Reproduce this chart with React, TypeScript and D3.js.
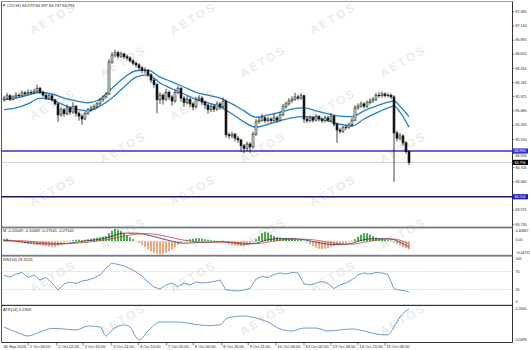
import React from 'react';
import * as d3 from 'd3';

// ---- chart texts ----
const symbolHeader = 'CDY,H1  84.979 84.997 84.747 84.794';
const macdHeader = 'M -0.20049 -0.10669 -0.27541 -0.27541';
const rsiHeader = 'RSI(14) 23.3123';
const atrHeader = 'ATR(14) 0.2309';

// ---- right price axis ----
const priceTicks = [87.385, 87.14, 86.895, 86.655, 86.41, 86.165, 85.925, 85.68, 85.435, 85.19, 84.95, 84.705, 84.46, 83.975, 83.73];
const levelLines = [84.99, 84.204];
const lastPrice = 84.794;

// ---- H1 candles ----
const firstOpen = 85.87;
const closes = [
  85.90, 85.94, 85.88, 85.92, 85.95, 85.94, 85.99, 85.97, 86.00, 85.99,
  86.02, 86.07, 86.00, 85.95, 85.90, 85.94, 85.87, 85.80, 85.61, 85.70,
  85.63, 85.73, 85.66, 85.76, 85.64, 85.59, 85.54, 85.64, 85.70, 85.73,
  85.76, 85.80, 85.87, 85.92, 85.97, 86.52, 86.64, 86.68, 86.62, 86.66,
  86.61, 86.59, 86.54, 86.50, 86.47, 86.42, 86.38, 86.37, 86.30, 86.21,
  86.13, 85.87, 85.95, 85.88, 86.00, 85.92, 85.85, 86.00, 86.07, 85.90,
  85.82, 85.88, 85.80, 85.75, 85.87, 85.90, 85.83, 85.78, 85.70, 85.76,
  85.71, 85.80, 85.75, 85.85, 85.27, 85.25, 85.28, 85.21, 85.18, 85.08,
  85.03, 85.11, 85.06, 85.28, 85.49, 85.52, 85.56, 85.51, 85.54, 85.51,
  85.56, 85.52, 85.61, 85.75, 85.80, 85.85, 85.88, 85.92, 85.90, 85.94,
  85.54, 85.51, 85.56, 85.52, 85.58, 85.54, 85.51, 85.56, 85.52, 85.59,
  85.45, 85.35, 85.33, 85.39, 85.40, 85.44, 85.52, 85.73, 85.76, 85.80,
  85.76, 85.82, 85.85, 85.88, 85.95, 85.94, 85.97, 85.94, 85.95, 85.92,
  85.30, 85.21, 85.25, 85.13, 84.979, 84.794,
];
const highs = [
  85.94, 85.99, 85.97, 85.95, 86.00, 85.98, 86.03, 86.02, 86.05, 86.04,
  86.06, 86.13, 86.09, 86.03, 85.98, 85.97, 85.96, 85.89, 85.82, 85.74,
  85.73, 85.79, 85.76, 85.83, 85.78, 85.67, 85.62, 85.67, 85.73, 85.77,
  85.79, 85.83, 85.90, 85.95, 86.00, 86.57, 86.69, 86.73, 86.71, 86.70,
  86.68, 86.65, 86.62, 86.57, 86.53, 86.50, 86.45, 86.43, 86.40, 86.33,
  86.24, 86.16, 86.00, 85.98, 86.06, 86.03, 85.95, 86.05, 86.11, 86.09,
  85.93, 85.93, 85.91, 85.83, 85.92, 85.95, 85.93, 85.86, 85.81, 85.80,
  85.79, 85.84, 85.83, 85.91, 85.88, 85.31, 85.32, 85.30, 85.25, 85.20,
  85.11, 85.15, 85.14, 85.32, 85.54, 85.57, 85.63, 85.59, 85.58, 85.57,
  85.64, 85.59, 85.66, 85.80, 85.84, 85.90, 85.93, 85.99, 85.96, 85.98,
  85.96, 85.58, 85.60, 85.59, 85.62, 85.61, 85.57, 85.60, 85.59, 85.64,
  85.61, 85.48, 85.39, 85.42, 85.44, 85.48, 85.56, 85.78, 85.81, 85.84,
  85.83, 85.86, 85.90, 85.92, 85.99, 86.00, 86.01, 86.00, 85.99, 85.98,
  85.95, 85.34, 85.30, 85.28, 85.16, 84.997,
];
const lows = [
  85.84, 85.87, 85.85, 85.86, 85.90, 85.91, 85.92, 85.94, 85.95, 85.96,
  85.97, 86.00, 85.97, 85.92, 85.87, 85.87, 85.84, 85.77, 85.49, 85.58,
  85.58, 85.60, 85.61, 85.63, 85.58, 85.51, 85.44, 85.52, 85.61, 85.67,
  85.70, 85.73, 85.77, 85.84, 85.89, 85.95, 86.49, 86.60, 86.58, 86.59,
  86.57, 86.55, 86.51, 86.46, 86.43, 86.38, 86.33, 86.32, 86.26, 86.16,
  86.08, 85.64, 85.80, 85.79, 85.85, 85.87, 85.77, 85.82, 85.97, 85.84,
  85.75, 85.79, 85.74, 85.69, 85.72, 85.84, 85.78, 85.71, 85.63, 85.66,
  85.66, 85.68, 85.70, 85.72, 85.22, 85.20, 85.21, 85.16, 85.13, 84.97,
  84.95, 84.99, 84.96, 85.03, 85.25, 85.46, 85.49, 85.47, 85.48, 85.47,
  85.49, 85.48, 85.50, 85.59, 85.72, 85.77, 85.82, 85.85, 85.86, 85.87,
  85.47, 85.47, 85.48, 85.48, 85.50, 85.50, 85.47, 85.48, 85.49, 85.49,
  85.41, 85.13, 85.29, 85.30, 85.35, 85.37, 85.41, 85.50, 85.70, 85.73,
  85.72, 85.73, 85.79, 85.82, 85.85, 85.91, 85.91, 85.91, 85.91, 85.88,
  84.46, 85.15, 85.17, 85.08, 84.94, 84.747,
];

// ---- envelope band (bar index, upper, lower) ----
const bandBars = [0, 4, 8, 12, 16, 20, 24, 28, 32, 36, 40, 44, 48, 52, 56, 60, 64, 68, 72, 76, 80, 84, 88, 92, 96, 100, 104, 108, 112, 116, 120, 124, 128, 130, 132, 135];
const bandUpper = [85.87, 85.90, 85.95, 86.00, 85.97, 85.90, 85.85, 85.82, 85.88, 86.07, 86.25, 86.37, 86.38, 86.26, 86.18, 86.09, 86.00, 85.95, 85.90, 85.80, 85.68, 85.57, 85.61, 85.66, 85.71, 85.73, 85.68, 85.63, 85.59, 85.58, 85.68, 85.76, 85.83, 85.85, 85.76, 85.58];
const bandLower = [85.70, 85.73, 85.80, 85.90, 85.87, 85.78, 85.71, 85.68, 85.76, 85.90, 86.09, 86.26, 86.30, 86.16, 86.06, 85.97, 85.88, 85.82, 85.75, 85.63, 85.49, 85.40, 85.45, 85.51, 85.56, 85.58, 85.56, 85.51, 85.45, 85.42, 85.54, 85.64, 85.73, 85.76, 85.66, 85.40];

// ---- MACD ----
const macdHist = [
  0.067, 0.084, 0.050, -0.017, -0.034, -0.050, -0.067, -0.084, -0.101, -0.101,
  -0.118, -0.134, -0.134, -0.151, -0.168, -0.185, -0.202, -0.202, -0.168, -0.134,
  -0.084, -0.034, 0.017, 0.034, 0.050, 0.050, 0.034, 0.050, 0.067, 0.084,
  0.101, 0.118, 0.134, 0.151, 0.168, 0.269, 0.353, 0.40867, 0.386, 0.336,
  0.269, 0.202, 0.134, 0.067, -0.017, -0.067, -0.134, -0.202, -0.269, -0.336,
  -0.386, -0.420, -0.44721, -0.420, -0.386, -0.336, -0.269, -0.202, -0.134, -0.067,
  0.017, 0.050, 0.067, 0.084, 0.101, 0.101, 0.084, 0.067, 0.050, 0.034,
  0.017, 0.007, 0.007, 0.017, -0.050, -0.101, -0.134, -0.151, -0.168, -0.168,
  -0.151, -0.118, -0.084, -0.034, 0.067, 0.168, 0.269, 0.319, 0.286, 0.218,
  0.168, 0.134, 0.118, 0.101, 0.101, 0.101, 0.101, 0.084, 0.067, 0.050,
  0.017, -0.050, -0.101, -0.168, -0.218, -0.252, -0.269, -0.252, -0.235, -0.202,
  -0.168, -0.134, -0.101, -0.084, -0.067, -0.034, 0.017, 0.067, 0.151, 0.218,
  0.269, 0.269, 0.218, 0.168, 0.118, 0.084, 0.067, 0.050, 0.034, 0.017,
  -0.050, -0.100, -0.150, -0.200, -0.240, -0.27541,
];
const macdMain = [0.034, 0, -0.050, -0.084, -0.101, -0.084, -0.034, 0.017, 0.067, 0.168, 0.269, 0.269, 0.202, 0.101, 0, -0.067, -0.050, -0.034, -0.017, -0.050, -0.101, -0.067, 0.050, 0.084, 0.084, 0.050, -0.034, -0.101, -0.118, -0.067, 0.050, 0.084, 0.084, 0.050, -0.034, -0.20049];
const macdSignal = [0, 0.017, 0, -0.034, -0.067, -0.084, -0.067, -0.034, 0.017, 0.084, 0.168, 0.235, 0.252, 0.202, 0.118, 0.034, -0.017, -0.034, -0.034, -0.034, -0.067, -0.084, -0.034, 0.034, 0.067, 0.067, 0.034, -0.034, -0.084, -0.101, -0.034, 0.034, 0.067, 0.067, 0.034, -0.10669];

// ---- RSI(14), every second bar plus the last one ----
const rsiValues = [
  61.1, 57.8, 64.4, 67.8, 56.7, 62.2, 51.1, 56.7, 44.4, 28.9,
  42.2, 46.7, 43.3, 48.9, 51.1, 55.6, 62.2, 77.8, 88.9, 85.6,
  82.2, 76.7, 68.9, 60.0, 46.7, 35.6, 31.1, 40.0, 44.4, 36.7,
  44.4, 40.0, 46.7, 44.4, 45.6, 47.8, 51.1, 28.9, 27.8, 26.7,
  28.9, 32.2, 53.3, 58.9, 56.7, 63.3, 66.7, 64.4, 67.8, 66.7,
  42.2, 40.0, 44.4, 47.8, 43.3, 32.2, 40.0, 44.4, 52.2, 62.2,
  66.7, 64.4, 67.8, 66.7, 63.3, 31.1, 28.9, 26.7, 23.3123,
];
const rsiLevels = [70, 30];
const rsiTicks = [100, 70, 30, 0];

// ---- ATR(14) ----
const atrBars = [0, 4, 8, 12, 16, 20, 24, 28, 32, 34, 36, 40, 42, 44, 45, 48, 52, 56, 60, 64, 68, 72, 74, 76, 80, 84, 88, 92, 96, 100, 104, 108, 112, 116, 120, 124, 128, 130, 132, 134, 135];
const atrValues = [0.138, 0.104, 0.077, 0.104, 0.128, 0.125, 0.118, 0.145, 0.138, 0.077, 0.118, 0.152, 0.138, 0.070, 0.0498, 0.111, 0.172, 0.172, 0.169, 0.155, 0.148, 0.152, 0.193, 0.206, 0.213, 0.199, 0.172, 0.125, 0.111, 0.131, 0.131, 0.111, 0.118, 0.125, 0.111, 0.091, 0.084, 0.138, 0.206, 0.247, 0.2605];

// ---- time axis ----
const dateTickBars = [-0.7, 8.1, 17.6, 26.4, 35.9, 44.8, 54.2, 63.1, 72.6, 81.4, 90.7, 100, 109, 118, 127];
const dateTickLabels = ['30 Sep 2014', '1 Oct 06:00', '2 Oct 02:00', '2 Oct 19:00', '3 Oct 14:00', '6 Oct 10:00', '7 Oct 05:00', '8 Oct 00:00', '8 Oct 16:00', '9 Oct 11:00', '10 Oct 06:00', '13 Oct 02:00', '13 Oct 18:00', '14 Oct 13:00', '15 Oct 08:00'];

const W = 530;
const H = 350;
const FONT = 'Liberation Sans, Arial, sans-serif';
const AXIS_X = 512.5;
const LEFT = 1.5;
const TAG_H = 5.2;

export default function App() {
  const n = closes.length;
  const x = d3.scaleLinear().domain([0, n - 1]).range([4, 409]);
  const yP = d3.scaleLinear().domain([83.73, 87.385]).range([224.3, 11.7]);
  const yM = d3.scaleLinear().domain([-0.44721, 0.40867]).range([254.5, 229]);
  const yR = d3.scaleLinear().domain([0, 100]).range([303, 258]);
  const yA = d3.scaleLinear().domain([0.0498, 0.2605]).range([340, 309]);

  const rsiBars = d3.range(0, n - 1, 2).concat([n - 1]);

  const bandPath = (vals: number[]) =>
    d3.line<number>().x((_, k) => x(bandBars[k])).y((v) => yP(v)).curve(d3.curveMonotoneX)(vals) || '';
  const macdPath = (vals: number[]) =>
    d3.line<number>().x((_, k) => x(bandBars[k])).y((v) => yM(v)).curve(d3.curveMonotoneX)(vals) || '';
  const rsiPath = d3.line<number>().x((_, k) => x(rsiBars[k])).y((v) => yR(v))(rsiValues) || '';
  const atrPath = d3.line<number>().x((_, k) => x(atrBars[k])).y((v) => yA(v)).curve(d3.curveMonotoneX)(atrValues) || '';

  const fmt3 = d3.format('.3f');

  // tick labels sitting under a level tag are pushed just below it
  const tickLabelY = (p: number) => {
    let y = yP(p);
    levelLines.forEach((lv) => {
      const ty = yP(lv);
      if (Math.abs(y - ty) < TAG_H / 2 + 2) y = ty + TAG_H / 2 + 2;
    });
    return y;
  };

  // faint diagonal watermark lattice, kept inside the drawing area
  const marks: { cx: number; cy: number }[] = [];
  for (let r = 0; r < 8; r++) {
    for (let j = 0; j < 4; j++) {
      const cx = 55 + 70 * (r % 2) + 140 * j;
      const cy = 22 + 43 * r;
      if (cx < 470 && cy < 330) marks.push({ cx, cy });
    }
  }

  const smallText = { fontFamily: FONT, fontSize: 4, fill: '#222' } as const;
  const axisText = { fontFamily: FONT, fontSize: 3.6, fill: '#222' } as const;

  return (
    <svg width={W} height={H} style={{ position: 'absolute', left: 0, top: 0, background: '#fff' }}>
      <rect x={0} y={0} width={W} height={H} fill="#fff" />

      {/* watermark */}
      <g>
        {marks.map((m, k) => (
          <text
            key={k}
            x={m.cx}
            y={m.cy}
            transform={`rotate(-30 ${m.cx} ${m.cy})`}
            textAnchor="middle"
            fontFamily={FONT}
            fontWeight="bold"
            fontSize={12}
            letterSpacing={2}
            fill="#ececec"
          >
            AETOS
          </text>
        ))}
      </g>

      {/* frame */}
      <line x1={LEFT} x2={AXIS_X} y1={1.5} y2={1.5} stroke="#9a9a9a" strokeWidth={1} />
      <line x1={LEFT} x2={LEFT} y1={1.5} y2={342.5} stroke="#555" strokeWidth={1} />
      <line x1={AXIS_X} x2={AXIS_X} y1={1.5} y2={342.5} stroke="#333" strokeWidth={1} />
      <line x1={LEFT} x2={AXIS_X} y1={342.5} y2={342.5} stroke="#333" strokeWidth={1} />
      <rect x={LEFT} y={226.6} width={AXIS_X - LEFT} height={1.8} fill="#7a7a7a" />
      <rect x={LEFT} y={254.8} width={AXIS_X - LEFT} height={1.8} fill="#7a7a7a" />
      <rect x={LEFT} y={304.8} width={AXIS_X - LEFT} height={1.2} fill="#333" />

      {/* price axis ticks */}
      {priceTicks.map((p) => (
        <g key={p}>
          <line x1={AXIS_X} x2={AXIS_X + 2} y1={yP(p)} y2={yP(p)} stroke="#333" strokeWidth={0.6} />
          <text x={AXIS_X + 3} y={tickLabelY(p)} dy="0.35em" {...axisText}>{fmt3(p)}</text>
        </g>
      ))}

      {/* last price line */}
      <line x1={LEFT} x2={AXIS_X} y1={yP(lastPrice)} y2={yP(lastPrice)} stroke="#c4c4c4" strokeWidth={0.8} />

      {/* horizontal levels */}
      {levelLines.map((p, k) => (
        <line key={p} x1={LEFT} x2={AXIS_X} y1={yP(p)} y2={yP(p)} stroke={k === 0 ? '#3434c4' : '#17176e'} strokeWidth={1.5} />
      ))}

      {/* envelope band */}
      <path d={bandPath(bandUpper)} fill="none" stroke="#2580cc" strokeWidth={1.3} />
      <path d={bandPath(bandLower)} fill="none" stroke="#2580cc" strokeWidth={1.3} />

      {/* candles */}
      {closes.map((c, i) => {
        const o = i === 0 ? firstOpen : closes[i - 1];
        const cx = x(i);
        const top = yP(Math.max(o, c));
        const bot = yP(Math.min(o, c));
        const bull = c >= o;
        return (
          <g key={i}>
            <line x1={cx} x2={cx} y1={yP(highs[i])} y2={yP(lows[i])} stroke="#151515" strokeWidth={0.8} />
            <rect
              x={cx - 1}
              y={top}
              width={2}
              height={Math.max(bot - top, 0.6)}
              fill={bull ? '#d8dcd4' : '#151515'}
              stroke={bull ? '#1e2e1e' : '#151515'}
              strokeWidth={0.6}
            />
          </g>
        );
      })}

      {/* level tags */}
      {levelLines.map((p, k) => (
        <g key={`l${p}`}>
          <rect x={AXIS_X} y={yP(p) - TAG_H / 2} width={15.5} height={TAG_H} fill={k === 0 ? '#3030c8' : '#1e1ea8'} />
          <text x={AXIS_X + 2} y={yP(p)} dy="0.35em" {...axisText} fill="#fff">{fmt3(p)}</text>
        </g>
      ))}
      <rect x={AXIS_X} y={yP(lastPrice) - TAG_H / 2} width={15.5} height={TAG_H} fill="#000" />
      <text x={AXIS_X + 2} y={yP(lastPrice)} dy="0.35em" {...axisText} fill="#fff">{fmt3(lastPrice)}</text>

      {/* header */}
      <path d="M2.6,4.6 L5.4,4.6 L4,6.4 Z" fill="#333" />
      <text x={7} y={7.2} {...smallText}>{symbolHeader}</text>

      {/* MACD panel */}
      {macdHist.map((v, i) => (
        <rect
          key={`h${i}`}
          x={x(i) - 0.8}
          y={Math.min(yM(v), yM(0))}
          width={1.6}
          height={Math.max(Math.abs(yM(v) - yM(0)), 0.3)}
          fill={v >= 0 ? '#1f9a22' : '#f2925f'}
        />
      ))}
      <path d={macdPath(macdMain)} fill="none" stroke="#3a2a66" strokeWidth={0.8} />
      <path d={macdPath(macdSignal)} fill="none" stroke="#c8452f" strokeWidth={0.8} />
      <text x={3} y={231.6} {...smallText}>{macdHeader}</text>
      {[0.40867, 0, -0.44721].map((v, k) => (
        <text key={v} x={AXIS_X + 3} y={yM(v) + (k === 0 ? 1.4 : k === 2 ? -1.6 : -1)} dy="0.35em" {...axisText}>
          {v === 0 ? '0.00' : d3.format('.5f')(v)}
        </text>
      ))}

      {/* RSI panel */}
      {rsiLevels.map((lv) => (
        <line key={lv} x1={LEFT} x2={AXIS_X} y1={yR(lv)} y2={yR(lv)} stroke="#a8a8a8" strokeWidth={0.6} strokeDasharray="1,1.5" />
      ))}
      <path d={rsiPath} fill="none" stroke="#4a84c0" strokeWidth={0.8} />
      <text x={3} y={261.4} {...smallText}>{rsiHeader}</text>
      {rsiTicks.map((t) => (
        <text key={t} x={AXIS_X + 3} y={yR(t) + (t === 100 ? 1.2 : t === 0 ? -0.8 : 0)} dy="0.35em" {...axisText}>{t}</text>
      ))}

      {/* ATR panel */}
      <path d={atrPath} fill="none" stroke="#4a84c0" strokeWidth={0.8} />
      <text x={3} y={310.6} {...smallText}>{atrHeader}</text>
      {[0.2605, 0.0498].map((v) => (
        <text key={v} x={AXIS_X + 3} y={yA(v)} dy="0.35em" {...axisText}>{d3.format('.4f')(v)}</text>
      ))}

      {/* time axis */}
      {dateTickBars.map((b, k) => (
        <g key={`d${k}`}>
          {k > 0 && <line x1={x(b)} x2={x(b)} y1={342.5} y2={345.5} stroke="#333" strokeWidth={0.6} />}
          <text x={x(b) + 1.5} y={347.6} {...smallText}>{dateTickLabels[k]}</text>
        </g>
      ))}
    </svg>
  );
}
